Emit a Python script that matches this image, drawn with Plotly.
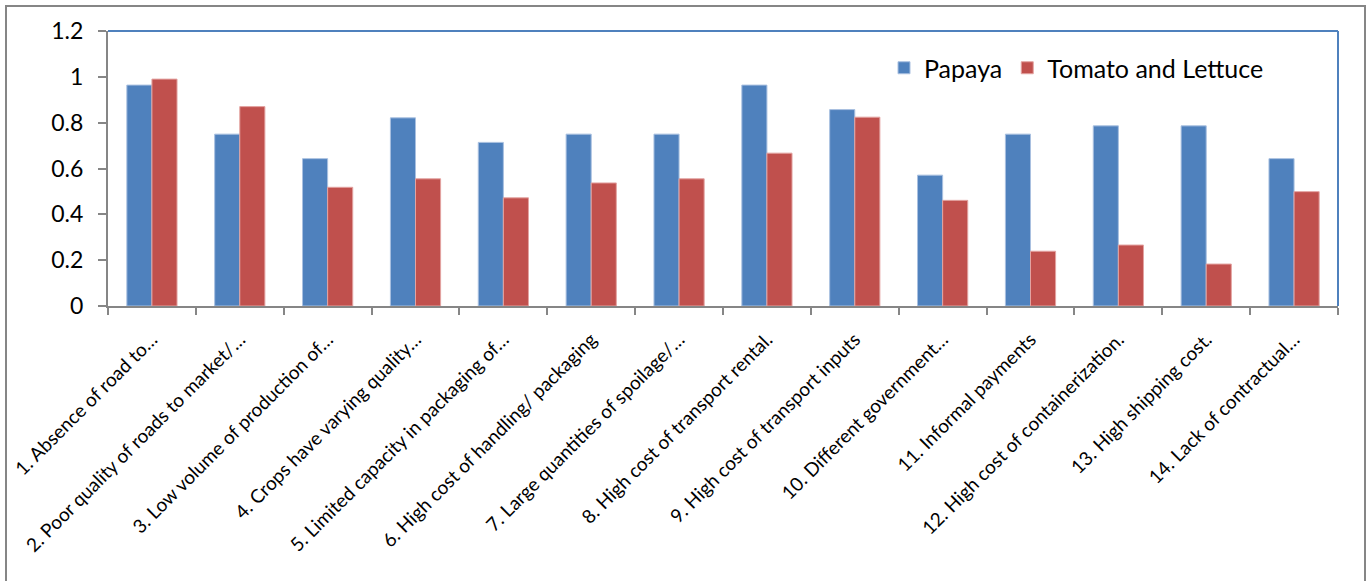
import plotly.graph_objects as go

categories = [
    "1. Absence of road to…",
    "2. Poor quality of roads to market/…",
    "3. Low volume of production of…",
    "4. Crops have varying quality…",
    "5. Limited capacity in packaging of…",
    "6. High cost of handling/ packaging",
    "7. Large quantities of spoilage/…",
    "8. High cost of transport rental.",
    "9. High cost of transport inputs",
    "10. Different government…",
    "11. Informal payments",
    "12. High cost of containerization.",
    "13. High shipping cost.",
    "14. Lack of contractual…",
]
papaya = [0.964, 0.75, 0.643, 0.821, 0.714, 0.75, 0.75, 0.964, 0.857, 0.571, 0.75, 0.786, 0.786, 0.643]
tomato_lettuce = [0.99, 0.87, 0.518, 0.555, 0.472, 0.537, 0.555, 0.667, 0.824, 0.461, 0.239, 0.266, 0.183, 0.499]
y_ticks = [0, 0.2, 0.4, 0.6, 0.8, 1, 1.2]

W, H = 1367, 581
L, R, T, B = 108, 29, 31, 275
PW, PH = W - L - R, H - T - B

FONT = "Lato"
GREY = "#868686"
BLUE = "#4F81BD"
RED = "#C0504D"

fig = go.Figure()
fig.add_trace(go.Bar(x=categories, y=papaya, name="Papaya",
                     marker=dict(color=BLUE, line=dict(color="#A9C0E0", width=1))))
fig.add_trace(go.Bar(x=categories, y=tomato_lettuce, name="Tomato and Lettuce",
                     marker=dict(color=RED, line=dict(color="#E3A3A1", width=1))))

def px_x(p):
    return (p - L) / PW

def px_y(p):
    return (H - B - p) / PH

shapes = [
    dict(type="line", xref="paper", yref="paper", x0=0, x1=1, y0=1, y1=1,
         line=dict(color=BLUE, width=2)),
    dict(type="line", xref="paper", yref="paper", x0=1, x1=1, y0=0, y1=1,
         line=dict(color=BLUE, width=2)),
    dict(type="rect", xref="paper", yref="paper",
         x0=px_x(6), x1=px_x(1365), y0=px_y(600), y1=px_y(6),
         line=dict(color=GREY, width=2), layer="below"),
]

fig.update_layout(
    width=W, height=H,
    margin=dict(l=L, r=R, t=T, b=B, autoexpand=False),
    paper_bgcolor="white", plot_bgcolor="white",
    barmode="group", bargap=0.4286, bargroupgap=0,
    font=dict(family=FONT, color="black"),
    shapes=shapes,
    showlegend=True,
    legend=dict(orientation="h", x=px_x(884), y=px_y(68), xanchor="left", yanchor="middle",
                font=dict(size=25, family=FONT), bgcolor="rgba(0,0,0,0)",
                itemwidth=30, traceorder="normal"),
    xaxis=dict(
        showline=True, linecolor=GREY, linewidth=2,
        ticks="outside", tickson="boundaries", ticklen=7, tickcolor=GREY, tickwidth=2,
        tickangle=-45, tickfont=dict(size=19, family=FONT), ticklabelstandoff=13,
        showgrid=False, zeroline=False, fixedrange=True,
    ),
    yaxis=dict(
        range=[0, 1.2], tickvals=y_ticks, ticktext=["0", "0.2", "0.4", "0.6", "0.8", "1", "1.2"],
        showline=True, linecolor=GREY, linewidth=2,
        ticks="outside", ticklen=8, tickcolor=GREY, tickwidth=2,
        tickfont=dict(size=23, family=FONT), ticklabelstandoff=10,
        showgrid=False, zeroline=False, fixedrange=True,
    ),
)

fig.write_html("out.html")
